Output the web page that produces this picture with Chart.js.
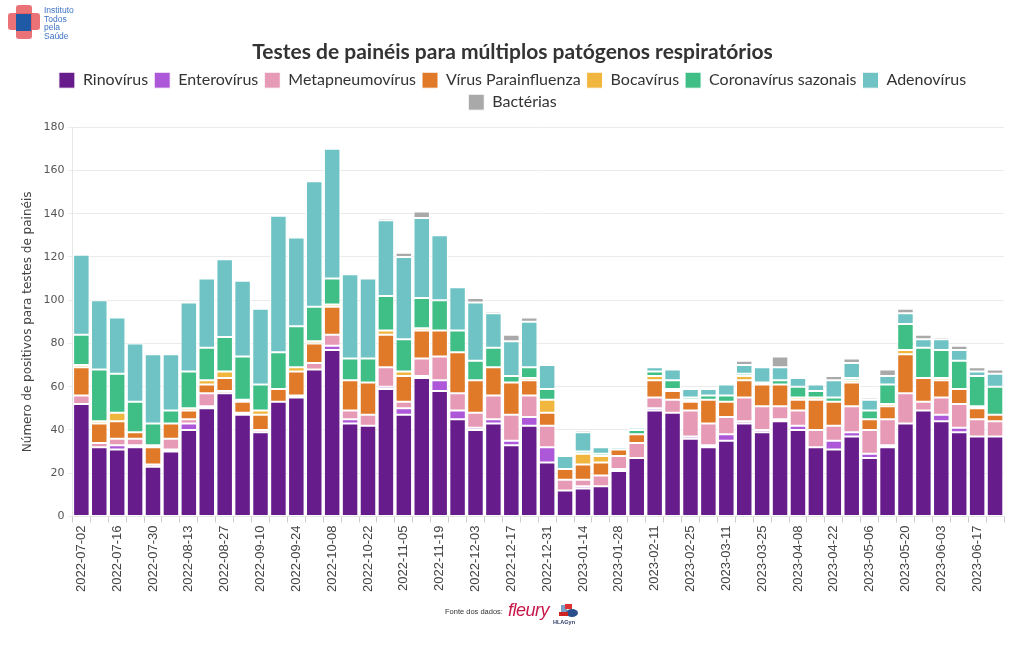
<!DOCTYPE html>
<html><head><meta charset="utf-8">
<script src="https://cdn.jsdelivr.net/npm/chart.js@4.4.0/dist/chart.umd.min.js"></script>
<style>
html,body{margin:0;padding:0;background:#fff;}
#wrap{position:relative;width:1020px;height:650px;overflow:hidden;}
#c{position:absolute;left:0;top:0;}
.logo-text{position:absolute;left:44px;top:6px;font-family:"Liberation Sans Narrow","Liberation Sans",sans-serif;font-size:8.5px;line-height:8.6px;color:#3d73c4;}
.foot{position:absolute;left:445px;top:607px;font-family:"Liberation Sans",sans-serif;font-size:7.5px;color:#333;}
.fleury{position:absolute;left:508px;top:600px;font-family:"Liberation Sans",sans-serif;font-style:italic;font-size:18px;color:#c8174a;letter-spacing:-0.5px;}
.hla{position:absolute;left:553px;top:619px;font-family:"Liberation Sans",sans-serif;font-size:5.5px;font-weight:bold;color:#2b3a67;}
</style></head><body>
<div id="wrap">
<canvas id="c" width="1020" height="650"></canvas>
<svg style="position:absolute;left:0;top:0" width="40" height="45">
 <rect x="16" y="5" width="16" height="34" rx="3" fill="#e85a5f" opacity="0.85"/>
 <rect x="8" y="13" width="32" height="17" rx="3" fill="#e85a5f" opacity="0.85"/>
 <rect x="16" y="14" width="15" height="17" fill="#1f5aa6"/>
</svg>
<div class="logo-text">Instituto<br>Todos<br>pela<br>Saúde</div>
<div class="foot">Fonte dos dados:</div>
<div class="fleury">fleury</div>
<svg style="position:absolute;left:556px;top:603px" width="24" height="17">
 <rect x="5" y="2" width="6" height="9" fill="#7aa0c8"/>
 <rect x="9" y="1" width="7" height="5" fill="#d33"/>
 <ellipse cx="16" cy="10" rx="6" ry="4" fill="#2b4f8a"/>
 <rect x="3" y="9" width="9" height="4" fill="#c22"/>
</svg>
<div class="hla">HLAGyn</div>
</div>
<script>
const weeks = ["2022-07-02","2022-07-09","2022-07-16","2022-07-23","2022-07-30","2022-08-06","2022-08-13","2022-08-20","2022-08-27","2022-09-03","2022-09-10","2022-09-17","2022-09-24","2022-10-01","2022-10-08","2022-10-15","2022-10-22","2022-10-29","2022-11-05","2022-11-12","2022-11-19","2022-11-26","2022-12-03","2022-12-10","2022-12-17","2022-12-24","2022-12-31","2023-01-07","2023-01-14","2023-01-21","2023-01-28","2023-02-04","2023-02-11","2023-02-18","2023-02-25","2023-03-04","2023-03-11","2023-03-18","2023-03-25","2023-04-01","2023-04-08","2023-04-15","2023-04-22","2023-04-29","2023-05-06","2023-05-13","2023-05-20","2023-05-27","2023-06-03","2023-06-10","2023-06-17","2023-06-24"];

const rinovirus = [52,32,31,32,23,30,40,50,57,47,39,53,55,68,77,43,42,59,47,64,58,45,40,43,33,42,25,12,13,14,21,27,49,48,36,32,35,43,39,44,40,32,31,37,27,32,43,49,44,39,37,37];
const enterovirus = [0,0,2,1,0,1,3,1,0,0,0,0,0,0,2,2,0,1,3,1,5,4,1,2,2,4,7,0,1,0,1,0,1,0,1,1,3,1,1,1,2,0,4,2,2,1,0,0,3,2,0,0];
const metapneumovirus = [4,2,3,3,1,5,2,6,1,1,1,0,1,3,5,4,5,9,3,8,11,8,7,11,12,10,10,5,3,5,6,7,5,6,12,10,8,11,11,6,7,8,7,12,11,12,14,4,8,11,8,7];
const parainfluenza = [13,9,8,3,8,7,4,4,6,5,7,6,11,9,13,14,15,15,12,13,12,19,15,13,15,7,6,5,7,6,3,4,8,4,4,11,7,8,10,10,5,14,11,11,5,6,18,11,8,7,5,3];
const bocavirus = [1,1,4,0,1,0,1,2,3,1,2,0,2,1,1,0,0,2,2,1,0,0,0,0,0,1,6,0,5,3,0,0,2,1,1,0,0,2,0,0,1,1,0,1,0,1,2,0,1,0,1,0];
const coronavirus = [14,24,18,14,10,6,17,15,16,20,12,17,19,16,12,10,11,16,15,14,14,10,9,9,3,5,5,0,1,1,0,2,2,4,1,2,3,1,1,2,5,3,2,1,4,9,12,14,13,13,14,13];
const adenovirus = [37,32,26,27,32,26,32,32,36,35,35,63,41,58,60,39,37,35,38,37,30,20,27,16,16,21,11,6,9,3,1,1,2,5,4,3,5,4,7,6,4,3,8,7,5,4,5,4,5,5,2,6];
const bacterias = [0,0,0,0,0,0,0,0,0,0,0,0,0,0,0,0,0,1,2,3,0,0,2,1,3,2,0,0,1,1,0,0,0,0,0,0,0,2,0,5,1,1,2,2,1,3,2,2,1,2,2,2];
const yTicks = [0,20,40,60,80,100,120,140,160,180];

const series = [
  ["Rinovírus", rinovirus, "#671c8b"],
  ["Enterovírus", enterovirus, "#ad58d9"],
  ["Metapneumovírus", metapneumovirus, "#e79ab6"],
  ["Vírus Parainfluenza", parainfluenza, "#e07a28"],
  ["Bocavírus", bocavirus, "#f0b63e"],
  ["Coronavírus sazonais", coronavirus, "#3fbe86"],
  ["Adenovírus", adenovirus, "#6fc3c4"],
  ["Bactérias", bacterias, "#a9a9a9"]
];

const legendGap = {
  id: 'legendGap',
  beforeInit(chart) {
    const origFit = chart.legend.fit;
    chart.legend.fit = function() { origFit.call(this); this.height += 7; };
  }
};

new Chart(document.getElementById('c'), {
  type: 'bar',
  data: {
    labels: weeks,
    datasets: series.map(s => ({
      label: s[0], data: s[1], backgroundColor: s[2],
      borderColor: '#ffffff', borderWidth: 1, borderSkipped: false,
      barPercentage: 0.92, categoryPercentage: 1.0
    }))
  },
  plugins: [legendGap],
  options: {
    responsive: false, animation: false,
    layout: { padding: { left: 21, right: 16, top: 0, bottom: 55 } },
    plugins: {
      title: { display: true, text: 'Testes de painéis para múltiplos patógenos respiratórios',
        color: '#333', font: { family: 'Lato', size: 21, weight: 'bold' }, padding: { top: 40, bottom: 1 } },
      legend: { position: 'top', align: 'center',
        labels: { boxWidth: 16, boxHeight: 16, padding: 6, color: '#333', font: { family: 'Lato', size: 16 } } },
      tooltip: { enabled: false }
    },
    scales: {
      x: { stacked: true,
        grid: { display: true, drawOnChartArea: false, drawTicks: true, tickLength: 6, color: '#cccccc' },
        border: { display: true, color: '#e6e6e6' },
        ticks: { autoSkip: false, maxRotation: 90, minRotation: 90, color: '#444', padding: 3,
          font: { family: 'Liberation Sans', size: 13 },
          callback: function(v, i) { return i % 2 === 0 ? weeks[i] : ''; } }
      },
      y: { stacked: true, min: 0, max: 180,
        afterBuildTicks: ax => { ax.ticks = yTicks.map(v => ({ value: v })); },
        grid: { color: '#ebebeb', drawTicks: true, tickLength: 4 },
        border: { display: true, color: '#e6e6e6' },
        ticks: { color: '#555', padding: 4, font: { family: 'DejaVu Sans', size: 11 } },
        title: { display: true, text: 'Número de positivos para testes de painéis', color: '#444',
          font: { family: 'DejaVu Sans', size: 12 }, padding: { top: 0, bottom: 4 } }
      }
    }
  }
});
</script>
</body></html>
